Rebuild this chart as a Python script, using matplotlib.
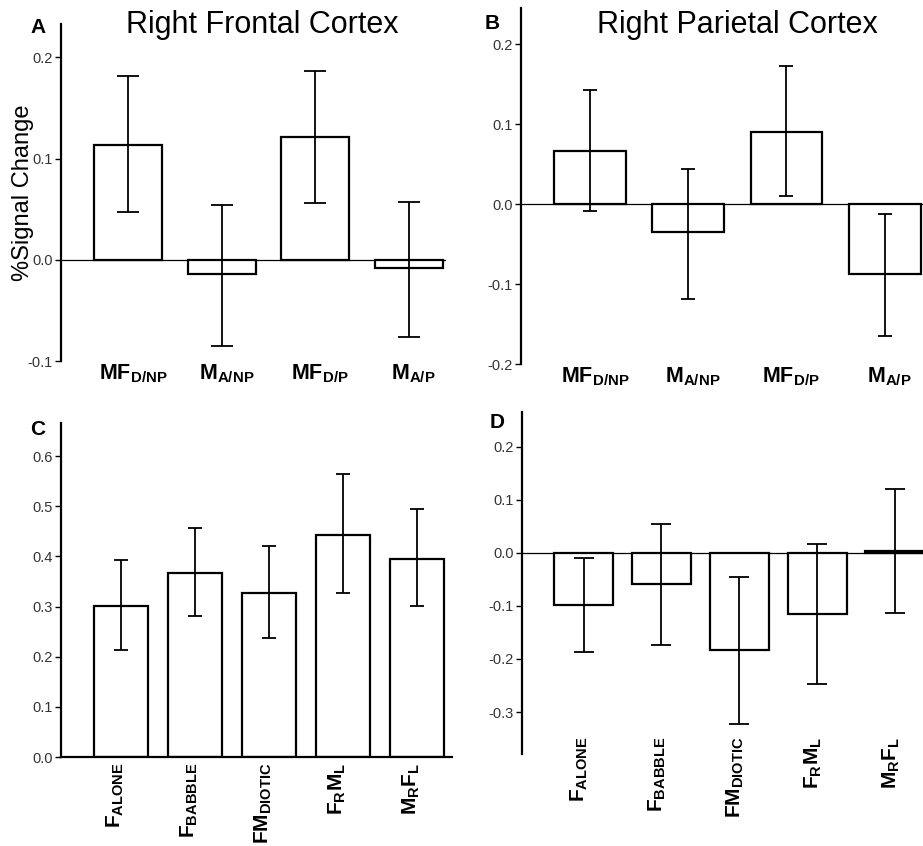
import matplotlib.pyplot as plt
import numpy as np
from matplotlib import transforms

plt.rcParams['font.family'] = ['Liberation Sans', 'DejaVu Sans']
plt.rcParams['mathtext.fontset'] = 'custom'
plt.rcParams['mathtext.rm'] = 'Liberation Sans'
plt.rcParams['mathtext.bf'] = 'Liberation Sans:bold'

# values (% signal change); lo/hi are error bar ends
ab_labels = [r'$\mathbf{MF}_{\mathbf{D/NP}}$', r'$\mathbf{M}_{\mathbf{A/NP}}$',
             r'$\mathbf{MF}_{\mathbf{D/P}}$', r'$\mathbf{M}_{\mathbf{A/P}}$']
frontal_vals = [0.113, -0.014, 0.121, -0.008]
frontal_lo = [0.047, -0.085, 0.056, -0.076]
frontal_hi = [0.182, 0.054, 0.187, 0.057]

parietal_vals = [0.066, -0.035, 0.090, -0.088]
parietal_lo = [-0.009, -0.119, 0.010, -0.165]
parietal_hi = [0.142, 0.044, 0.172, -0.012]

cd_labels = [r'$\mathbf{F}_{\mathbf{ALONE}}$', r'$\mathbf{F}_{\mathbf{BABBLE}}$',
             r'$\mathbf{FM}_{\mathbf{DIOTIC}}$',
             r'$\mathbf{F}_{\mathbf{R}}\mathbf{M}_{\mathbf{L}}$',
             r'$\mathbf{M}_{\mathbf{R}}\mathbf{F}_{\mathbf{L}}$']
c_vals = [0.302, 0.367, 0.328, 0.443, 0.395]
c_lo = [0.213, 0.282, 0.237, 0.327, 0.301]
c_hi = [0.392, 0.456, 0.421, 0.564, 0.494]

d_vals = [-0.098, -0.059, -0.183, -0.116, 0.003]
d_lo = [-0.186, -0.174, -0.323, -0.248, -0.113]
d_hi = [-0.009, 0.054, -0.046, 0.016, 0.120]

W, H = 923, 846
fig = plt.figure(figsize=(W / 100, H / 100), dpi=100)


def px_axes(left, top, right, bottom):
    return fig.add_axes([left / W, 1 - bottom / H, (right - left) / W, (bottom - top) / H])


def panel(ax, vals, lo, hi, width, capsize, ylim, xlim, ticks):
    vals = np.array(vals)
    x = np.arange(len(vals))
    ax.bar(x, vals, width=width, facecolor='white', edgecolor='black', linewidth=1.6, zorder=2)
    yerr = [vals - np.array(lo), np.array(hi) - vals]
    ax.errorbar(x, vals, yerr=yerr, fmt='none', ecolor='black', elinewidth=1.3,
                capsize=capsize, capthick=1.3, zorder=3)
    ax.set_xlim(*xlim)
    ax.set_ylim(*ylim)
    ax.set_yticks(ticks)
    ax.set_yticklabels(['%.1f' % t for t in ticks])
    ax.set_xticks([])
    for s in ['top', 'right', 'bottom']:
        ax.spines[s].set_visible(False)
    ax.spines['left'].set_linewidth(1.6)
    ax.tick_params(axis='y', direction='out', length=4, width=1, pad=2,
                   labelsize=10.5, labelcolor='#333333')
    ax.patch.set_alpha(0)
    return x


# A
axA = px_axes(61, 24, 446, 361)
x = panel(axA, frontal_vals, frontal_lo, frontal_hi, 0.73, 7.8,
          (-0.1, 0.233), (-0.72, 3.4), [-0.1, 0.0, 0.1, 0.2])
axA.axhline(0, color='black', lw=0.9, zorder=1)
axA.set_ylabel('%Signal Change', fontsize=17)
axA.yaxis.set_label_coords(-0.07, 0.5)
tr = transforms.blended_transform_factory(axA.transData, axA.transAxes)
for i, lab in zip(x, ab_labels):
    axA.text(i + 0.05, -0.005, lab, transform=tr, ha='center', va='top', fontsize=15.5)

# B
axB = px_axes(521, 8, 923, 364)
x = panel(axB, parietal_vals, parietal_lo, parietal_hi, 0.73, 4.8,
          (-0.2, 0.245), (-0.703, 3.39), [-0.2, -0.1, 0.0, 0.1, 0.2])
axB.axhline(0, color='black', lw=0.9, zorder=1)
tr = transforms.blended_transform_factory(axB.transData, axB.transAxes)
for i, lab in zip(x, ab_labels):
    axB.text(i + 0.05, -0.005, lab, transform=tr, ha='center', va='top', fontsize=15.5)

# C
axC = px_axes(61, 423, 452, 757)
x = panel(axC, c_vals, c_lo, c_hi, 0.73, 4.8,
          (0, 0.666), (-0.81, 4.47), [0.0, 0.1, 0.2, 0.3, 0.4, 0.5, 0.6])
axC.spines['bottom'].set_visible(True)
axC.spines['bottom'].set_linewidth(1.6)
tr = transforms.blended_transform_factory(axC.transData, axC.transAxes)
for i, lab in zip(x, cd_labels):
    axC.text(i - 0.08, -0.016, lab, transform=tr, ha='center', va='top',
             rotation=90, fontsize=15)

# D
axD = px_axes(522, 412, 923, 754)
x = panel(axD, d_vals, d_lo, d_hi, 0.76, 7.0,
          (-0.379, 0.265), (-0.79, 4.36), [-0.3, -0.2, -0.1, 0.0, 0.1, 0.2])
axD.axhline(0, color='black', lw=0.9, zorder=1)
tr = transforms.blended_transform_factory(axD.transData, axD.transAxes)
for i, lab in zip(x, cd_labels):
    axD.text(i - 0.05, 0.05, lab, transform=tr, ha='center', va='top',
             rotation=90, fontsize=15)

# titles and panel letters
fig.text(262 / W, 1 - 33 / H, 'Right Frontal Cortex', ha='center', va='baseline', fontsize=22)
fig.text(737 / W, 1 - 33 / H, 'Right Parietal Cortex', ha='center', va='baseline', fontsize=22)
for lx, ly, letter in [(30, 33, 'A'), (485, 29, 'B'), (30, 435, 'C'), (490, 428, 'D')]:
    fig.text(lx / W, 1 - ly / H, letter, ha='left', va='baseline', fontsize=15,
             fontweight='bold')

fig.savefig('out.png', dpi=100, facecolor='white')
